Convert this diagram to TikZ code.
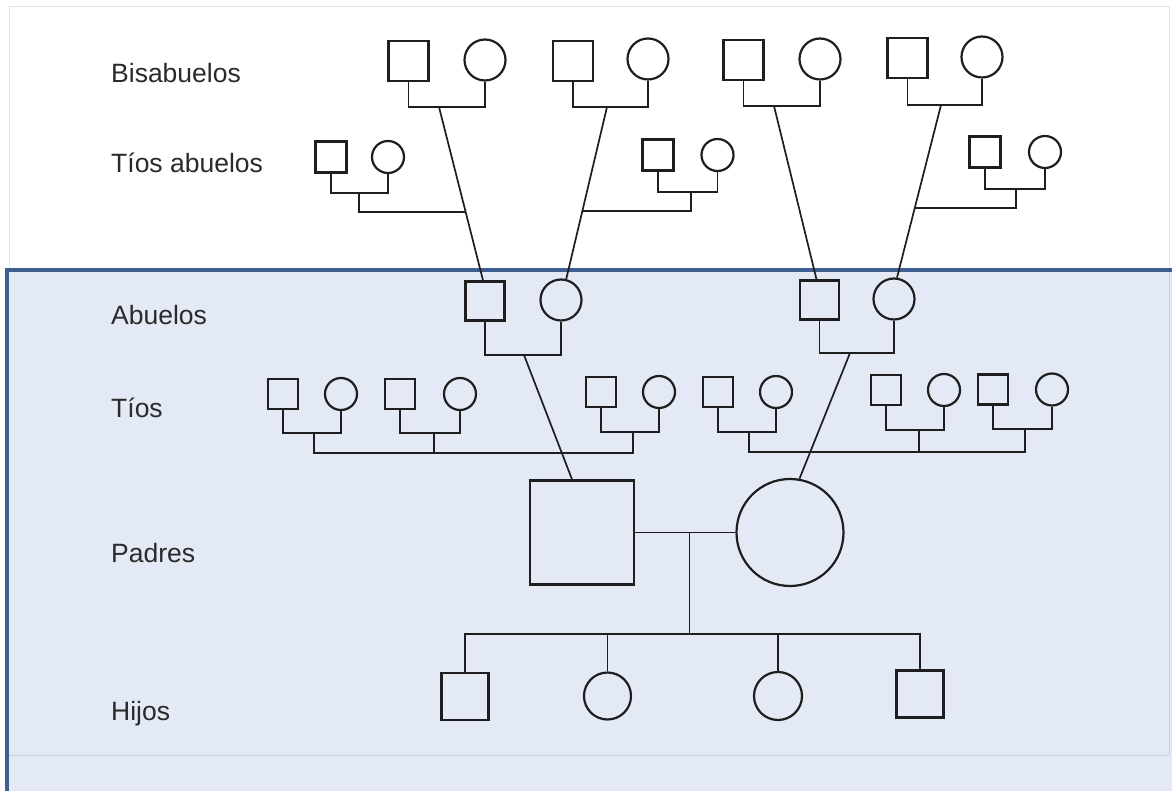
\documentclass[tikz,border=0pt]{standalone}
\usepackage{fontspec}
\setmainfont{Liberation Sans}
\definecolor{ink}{HTML}{1E1E1E}
\definecolor{labelink}{HTML}{2A2A2A}
\definecolor{boxfill}{HTML}{E3EAF5}
\definecolor{boxline}{HTML}{3E6090}
\definecolor{boxthin}{HTML}{C4CEE2}
\definecolor{pageline}{HTML}{E2E2E2}
\begin{document}
\begin{tikzpicture}[x=1pt,y=-1pt,
  male/.style={draw=ink, line width=2.3pt, minimum size=#1, inner sep=0pt},
  female/.style={circle, draw=ink, line width=2.2pt, minimum size=#1, inner sep=0pt},
  link/.style={draw=ink, line width=1.7pt},
  gen/.style={anchor=base west, text=labelink, inner sep=0pt,
              font=\fontsize{26.5}{30}\selectfont}]

% page and panels
\useasboundingbox (0,0) rectangle (1172,791);
\fill[white] (0,0) rectangle (1172,791);
\draw[pageline, line width=1pt] (9,268) -- (9,7) -- (1169,7) -- (1169,268);
\fill[boxfill] (5,268) rectangle (1172,791);
\draw[boxthin, line width=1pt] (9,755) -- (1169,755) -- (1169,272);
\draw[boxline, line width=4pt] (7,791) -- (7,270) -- (1172,270);

% generation labels
\node[gen] (lb1) at (111,83)  {Bisabuelos};
\node[gen] (lb2) at (111,173) {Tíos abuelos};
\node[gen] (lb3) at (111,325) {Abuelos};
\node[gen] (lb4) at (111,417) {Tíos};
\node[gen] (lb5) at (111,562) {Padres};
\node[gen] (lb6) at (111,720) {Hijos};

% great-grandparents
\node[male=40]   (bs1) at (408.5,61) {};
\node[female=41] (bc1) at (485,60)   {};
\node[male=40]   (bs2) at (573,61)   {};
\node[female=41] (bc2) at (648,59)   {};
\node[male=40]   (bs3) at (743.5,60) {};
\node[female=41] (bc3) at (820,59)   {};
\node[male=40]   (bs4) at (907.5,58) {};
\node[female=41] (bc4) at (982,57)   {};
\coordinate (bk1) at (439,107);
\coordinate (bk2) at (607,107);
\coordinate (bk3) at (774,106);
\coordinate (bk4) at (941,105);
\draw[link] (bs1.south) -- (bs1.south |- bk1) -| (bc1.south);
\draw[link] (bs2.south) -- (bs2.south |- bk2) -| (bc2.south);
\draw[link] (bs3.south) -- (bs3.south |- bk3) -| (bc3.south);
\draw[link] (bs4.south) -- (bs4.south |- bk4) -| (bc4.south);

% grandparents
\node[male=39]   (as1) at (485,301)   {};
\node[female=41] (ac1) at (561,300)   {};
\node[male=39]   (as2) at (819.5,300) {};
\node[female=41] (ac2) at (894,299)   {};
\coordinate (ak1) at (524,355);
\coordinate (ak2) at (850,353);
\draw[link] (as1.south) -- (as1.south |- ak1) -| (ac1.south);
\draw[link] (as2.south) -- (as2.south |- ak2) -| (ac2.south);

% descent lines from great-grandparents to grandparents
\coordinate (at1) at ([xshift=-2pt]as1.north);
\coordinate (at2) at (ac1.76);
\coordinate (at3) at ([xshift=-3pt]as2.north);
\coordinate (at4) at (ac2.82);
\draw[link] (bk1) -- (at1);
\draw[link] (bk2) -- (at2);
\draw[link] (bk3) -- (at3);
\draw[link] (bk4) -- (at4);

% great-uncles and great-aunts
\node[male=31]   (ts1) at (331,157)   {};
\node[female=32] (tc1) at (388,157)   {};
\node[male=31]   (ts2) at (658,155)   {};
\node[female=32] (tc2) at (717.5,155) {};
\node[male=31]   (ts3) at (985,152)   {};
\node[female=32] (tc3) at (1045,152)  {};
\coordinate (tk1) at (359,193);
\coordinate (tk2) at (691,192);
\coordinate (tk3) at (1016,189);
\draw[link] (ts1.south) -- (ts1.south |- tk1) -| (tc1.south);
\draw[link] (ts2.south) -- (ts2.south |- tk2) -| (tc2.south);
\draw[link] (ts3.south) -- (ts3.south |- tk3) -| (tc3.south);
\coordinate (tl1) at (359,212);
\coordinate (tr1) at (520,212);
\coordinate (tl2) at (691,211);
\coordinate (tr2) at (540,211);
\coordinate (tl3) at (1016,208);
\coordinate (tr3) at (860,208);
\coordinate (tj1) at (intersection of bk1--at1 and tl1--tr1);
\coordinate (tj2) at (intersection of bk2--at2 and tl2--tr2);
\coordinate (tj3) at (intersection of bk4--at4 and tl3--tr3);
\draw[link] (tk1) -- (tl1) -- (tj1);
\draw[link] (tk2) -- (tl2) -- (tj2);
\draw[link] (tk3) -- (tl3) -- (tj3);

% uncles and aunts
\node[male=30]   (us1) at (283,394)    {};
\node[female=32] (uc1) at (341,394)    {};
\node[male=30]   (us2) at (400,394)    {};
\node[female=32] (uc2) at (460,394)    {};
\node[male=30]   (us3) at (601,392)    {};
\node[female=32] (uc3) at (659,392)    {};
\node[male=30]   (us4) at (718,392)    {};
\node[female=32] (uc4) at (776,392)    {};
\node[male=30]   (us5) at (886,390)    {};
\node[female=32] (uc5) at (944,390)    {};
\node[male=30]   (us6) at (993,389.5)  {};
\node[female=32] (uc6) at (1052,389.5) {};
\coordinate (uk1) at (314,433);
\coordinate (uk2) at (434,433);
\coordinate (uk3) at (633,432);
\coordinate (uk4) at (749,432);
\coordinate (uk5) at (919,430);
\coordinate (uk6) at (1025,429);
\draw[link] (us1.south) -- (us1.south |- uk1) -| (uc1.south);
\draw[link] (us2.south) -- (us2.south |- uk2) -| (uc2.south);
\draw[link] (us3.south) -- (us3.south |- uk3) -| (uc3.south);
\draw[link] (us4.south) -- (us4.south |- uk4) -| (uc4.south);
\draw[link] (us5.south) -- (us5.south |- uk5) -| (uc5.south);
\draw[link] (us6.south) -- (us6.south |- uk6) -| (uc6.south);
\coordinate (ul1) at (314,453);
\coordinate (ul2) at (749,452);
\draw[link] (uk1) -- (ul1) -| (uk3);
\draw[link] (uk2) -- (uk2 |- ul1);
\draw[link] (uk4) -- (ul2) -| (uk6);
\draw[link] (uk5) -- (uk5 |- ul2);

% parents
\node[male=104]   (ps) at (582,532.5) {};
\node[female=107] (pc) at (790,532.5) {};
\draw[link] (ak1) -- ([xshift=-10pt]ps.north);
\draw[link] (ak2) -- (pc.80);
\draw[link] (ps.east) -- (pc.west);
\coordinate (pm) at (689.5,532.5);
\coordinate (pd) at (689.5,634);
\draw[link] (pm) -- (pd);

% children
\node[male=47]   (h1) at (465,696.5) {};
\node[female=47] (h2) at (607.5,696) {};
\node[female=48] (h3) at (778,696)   {};
\node[male=47]   (h4) at (920,694)   {};
\draw[link] (h1.north) -- (h1.north |- pd) -- (h4.north |- pd) -- (h4.north);
\draw[link] (h2.north) -- (h2.north |- pd);
\draw[link] (h3.north) -- (h3.north |- pd);

\end{tikzpicture}
\end{document}
